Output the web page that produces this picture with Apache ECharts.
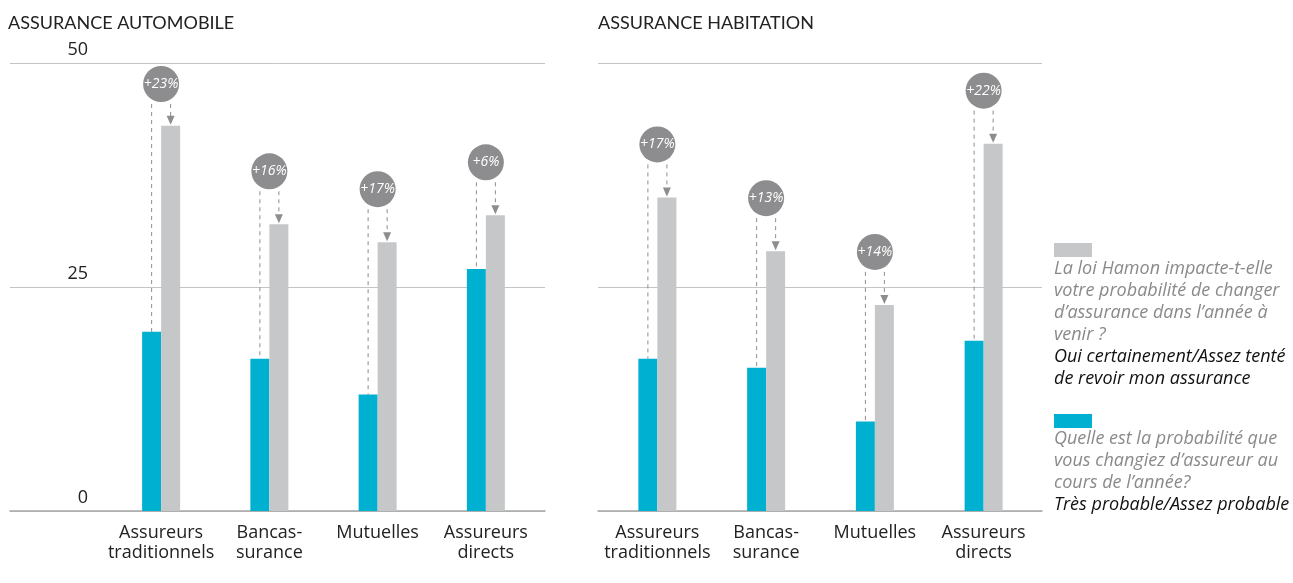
<!DOCTYPE html>
<html>
<head>
<meta charset="utf-8">
<script src="https://cdn.jsdelivr.net/npm/echarts@6/dist/echarts.min.js"></script>
<style>
  html, body { margin: 0; padding: 0; background: #fff; }
  #chart { width: 1293px; height: 583px; }
</style>
</head>
<body>
<div id="chart"></div>
<script>
// data
const categories = ['Assureurs\ntraditionnels', 'Bancas-\nsurance', 'Mutuelles', 'Assureurs\ndirects']
const autoLikely = [20, 17, 13, 27]
const autoHamon = [43, 32, 30, 33]
const autoDelta = ['+23%', '+16%', '+17%', '+6%']
const homeLikely = [17, 16, 10, 19]
const homeHamon = [35, 29, 23, 41]
const homeDelta = ['+17%', '+13%', '+14%', '+22%']
const yMin = 0
const yMax = 50
const yStep = 25

const blue = '#00b0d1'
const grey = '#c6c7c9'
const bubble = '#8d8d8f'
const barW = 19

const chart = echarts.init(document.getElementById('chart'))

function annotations(likely, hamon, deltas, axisIdx) {
  return {
    type: 'custom',
    xAxisIndex: axisIdx,
    yAxisIndex: axisIdx,
    z: 5,
    data: likely.map((v, i) => [i, v, hamon[i]]),
    renderItem(params, api) {
      const i = api.value(0)
      const lo = api.coord([i, api.value(1)])
      const hi = api.coord([i, api.value(2)])
      const cx = lo[0]
      const r = 18
      // keep the bubble under the top rule
      const by = Math.max(hi[1] - 53, params.coordSys.y + r + 3)
      const xl = cx - barW / 2
      const xr = cx + barW / 2
      const dash = { stroke: '#8d8d8f', lineWidth: 1, lineDash: [4, 4] }
      return {
        type: 'group',
        children: [
          { type: 'line', shape: { x1: xl, y1: by + r + 2, x2: xl, y2: lo[1] }, style: dash },
          { type: 'line', shape: { x1: xr, y1: by + r + 2, x2: xr, y2: hi[1] - 9 }, style: dash },
          {
            type: 'polygon',
            shape: { points: [[xr - 4, hi[1] - 10], [xr + 4, hi[1] - 10], [xr, hi[1] - 1]] },
            style: { fill: '#8d8d8f' }
          },
          { type: 'circle', shape: { cx: cx, cy: by, r: r }, style: { fill: bubble } },
          {
            type: 'text',
            x: cx,
            y: by,
            style: {
              text: deltas[params.dataIndex],
              fill: '#fff',
              font: 'italic 14px "Open Sans", sans-serif',
              align: 'center',
              verticalAlign: 'middle'
            }
          }
        ]
      }
    }
  }
}

const legendFont = 'italic 18px "Open Sans", sans-serif'
const catLabel = { interval: 0, margin: 12, fontSize: 18, lineHeight: 20, color: '#222', fontFamily: '"Open Sans"' }

chart.setOption({
  backgroundColor: '#fff',
  animation: false,
  title: [
    { text: 'ASSURANCE AUTOMOBILE', left: 3, top: 9, textStyle: { fontSize: 18, fontWeight: 'normal', color: '#222', fontFamily: 'Lato' } },
    { text: 'ASSURANCE HABITATION', left: 593, top: 9, textStyle: { fontSize: 18, fontWeight: 'normal', color: '#222', fontFamily: 'Lato' } }
  ],
  grid: [
    { left: 107, width: 433, top: 63, height: 448 },
    { left: 603, width: 435, top: 63, height: 448 },
    // backing grids for the rules and the y labels
    { left: 10, width: 535, top: 63, height: 448 },
    { left: 598, width: 444, top: 63, height: 448 }
  ],
  xAxis: [
    { type: 'category', gridIndex: 0, data: categories, axisLine: { show: false }, axisTick: { show: false }, axisLabel: catLabel },
    { type: 'category', gridIndex: 1, data: categories, axisLine: { show: false }, axisTick: { show: false }, axisLabel: catLabel },
    {
      type: 'value', gridIndex: 2, min: 0, max: 1,
      axisLabel: { show: false }, axisTick: { show: false }, splitLine: { show: false },
      axisLine: { show: true, lineStyle: { color: '#a8a8a8', width: 1.5 } }
    },
    {
      type: 'value', gridIndex: 3, min: 0, max: 1,
      axisLabel: { show: false }, axisTick: { show: false }, splitLine: { show: false },
      axisLine: { show: true, lineStyle: { color: '#a8a8a8', width: 1.5 } }
    }
  ],
  yAxis: [
    { type: 'value', gridIndex: 0, min: yMin, max: yMax, interval: yStep, show: false },
    { type: 'value', gridIndex: 1, min: yMin, max: yMax, interval: yStep, show: false },
    {
      type: 'value', gridIndex: 2, min: yMin, max: yMax, interval: yStep,
      axisLine: { show: false }, axisTick: { show: false },
      splitLine: { lineStyle: { color: '#c4c4c4', width: 1 } },
      axisLabel: {
        inside: true, margin: 78, align: 'right', verticalAlign: 'bottom',
        lineHeight: 26, fontSize: 18, color: '#222', fontFamily: '"Open Sans"'
      }
    },
    {
      type: 'value', gridIndex: 3, min: yMin, max: yMax, interval: yStep,
      axisLine: { show: false }, axisTick: { show: false },
      splitLine: { lineStyle: { color: '#c4c4c4', width: 1 } },
      axisLabel: { show: false }
    }
  ],
  series: [
    { type: 'bar', name: 'Très probable/Assez probable', xAxisIndex: 0, yAxisIndex: 0, data: autoLikely, barWidth: barW, barGap: '0%', itemStyle: { color: blue } },
    { type: 'bar', name: 'Oui certainement/Assez tenté', xAxisIndex: 0, yAxisIndex: 0, data: autoHamon, barWidth: barW, barGap: '0%', itemStyle: { color: grey } },
    { type: 'bar', name: 'Très probable/Assez probable', xAxisIndex: 1, yAxisIndex: 1, data: homeLikely, barWidth: barW, barGap: '0%', itemStyle: { color: blue } },
    { type: 'bar', name: 'Oui certainement/Assez tenté', xAxisIndex: 1, yAxisIndex: 1, data: homeHamon, barWidth: barW, barGap: '0%', itemStyle: { color: grey } },
    annotations(autoLikely, autoHamon, autoDelta, 0),
    annotations(homeLikely, homeHamon, homeDelta, 1)
  ],
  graphic: [
    { type: 'rect', left: 1054, top: 243, shape: { width: 38, height: 14 }, style: { fill: grey } },
    {
      type: 'text', left: 1054, top: 258,
      style: {
        text: 'La loi Hamon impacte-t-elle\nvotre probabilité de changer\nd\u2019assurance dans l\u2019année à\nvenir ?',
        font: legendFont, fill: '#8a8a8a', lineHeight: 22
      }
    },
    {
      type: 'text', left: 1054, top: 346,
      style: {
        text: 'Oui certainement/Assez tenté\nde revoir mon assurance',
        font: legendFont, fill: '#111', lineHeight: 22
      }
    },
    { type: 'rect', left: 1054, top: 414, shape: { width: 38, height: 14 }, style: { fill: blue } },
    {
      type: 'text', left: 1054, top: 428,
      style: {
        text: 'Quelle est la probabilité que\nvous changiez d\u2019assureur au\ncours de l\u2019année?',
        font: legendFont, fill: '#8a8a8a', lineHeight: 22
      }
    },
    {
      type: 'text', left: 1054, top: 494,
      style: {
        text: 'Très probable/Assez probable',
        font: legendFont, fill: '#111', lineHeight: 22
      }
    }
  ]
})
</script>
</body>
</html>
